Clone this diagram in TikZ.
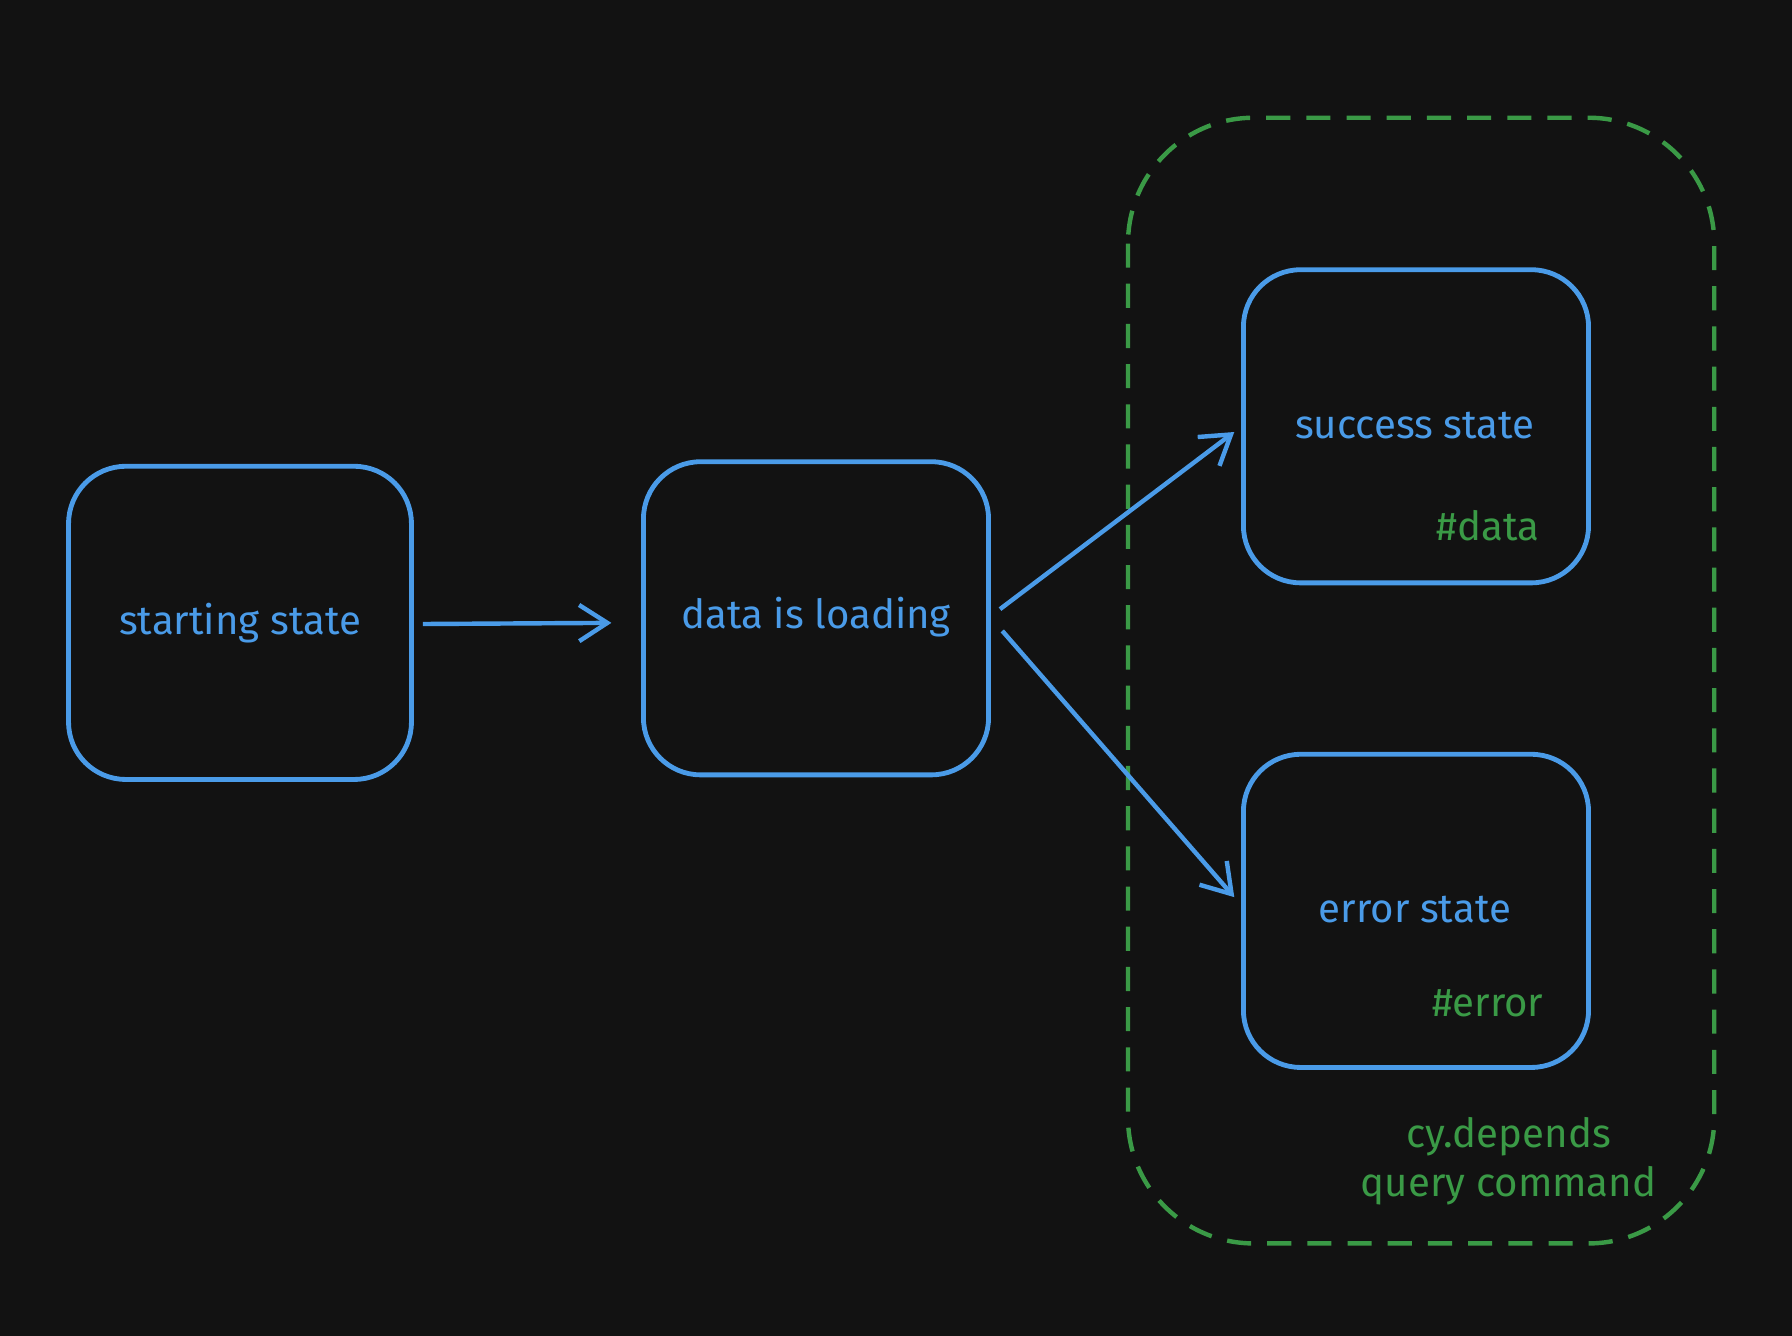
\documentclass[tikz,border=0pt]{standalone}
\usepackage{fontspec}
\setmainfont{Fira Sans}
\usetikzlibrary{arrows.meta}
\definecolor{bg}{HTML}{121212}
\definecolor{bl}{HTML}{4A9BE8}
\definecolor{gr}{HTML}{3A9A46}
\begin{document}
\begin{tikzpicture}[x=0.01cm,y=-0.01cm,
  box/.style={draw=bl,line width=1.2pt,rounded corners=0.5cm},
  lbl/.style={text=bl,font=\fontsize{10}{12}\selectfont},
  glbl/.style={text=gr,font=\fontsize{10}{12}\selectfont},
  arr/.style={draw=bl,line width=1.1pt,-{Straight Barb[length=7pt,width=9pt]}}]
\fill[bg] (0,0) rectangle (1568,1169);
\useasboundingbox (0,0) rectangle (1568,1169);
\draw[gr,line width=1.1pt,dash pattern=on 6pt off 4pt,rounded corners=1.1cm] (987,103) rectangle (1500,1088);
\draw[box] (60,408) rectangle (360,682);
\draw[box] (563,404) rectangle (865,678);
\draw[box] (1088,236) rectangle (1390,510);
\draw[box] (1088,660) rectangle (1390,934);
\node[lbl] (s) at (210,545) {starting state};
\node[lbl] (l) at (714,540) {data is loading};
\node[lbl] (ok) at (1238,372) {success state};
\node[glbl] (d) at (1302,460) {\#data};
\node[lbl] (er) at (1238,796) {error state};
\node[glbl] (e) at (1302,878) {\#error};
\node[glbl,align=center] (c) at (1320,1016) {cy.depends\\query command};
\coordinate (a1) at (370,546); \coordinate (b1) at (535,545);
\coordinate (a2) at (875,533); \coordinate (b2) at (1080,378);
\coordinate (a3) at (877,552); \coordinate (b3) at (1080,785);
\draw[arr] (a1) -- (b1);
\draw[arr] (a2) -- (b2);
\draw[arr] (a3) -- (b3);
\end{tikzpicture}
\end{document}
